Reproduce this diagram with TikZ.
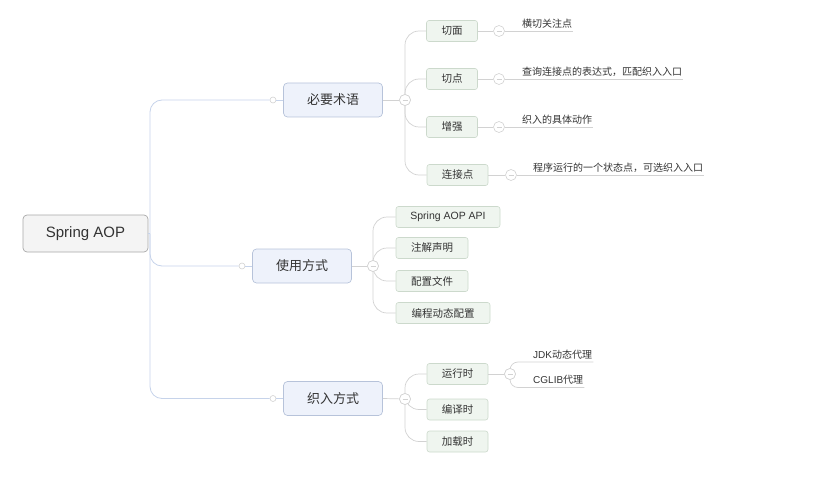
\documentclass[tikz,border=0pt]{standalone}
\usepackage{fontspec}
\setmainfont{Noto Sans CJK SC}
\newfontfamily\lat{Liberation Sans}
\usetikzlibrary{positioning,calc}
\definecolor{txt}{HTML}{333333}
\definecolor{rootfill}{HTML}{F4F4F4}
\definecolor{rootdraw}{HTML}{A8A8A8}
\definecolor{lonefill}{HTML}{EEF2FB}
\definecolor{lonedraw}{HTML}{B7C3DA}
\definecolor{ltwofill}{HTML}{EFF5EF}
\definecolor{ltwodraw}{HTML}{CCD9CC}
\definecolor{trunkc}{HTML}{C6D3EA}
\definecolor{linec}{HTML}{D2D2D2}
\tikzset{
  rootbox/.style={draw=rootdraw,fill=rootfill,rounded corners=4pt,minimum height=37pt,minimum width=125pt,align=center,font=\fontsize{15}{17}\selectfont,text=txt,line width=0.7pt},
  lonebox/.style={draw=lonedraw,fill=lonefill,rounded corners=4pt,minimum height=34pt,minimum width=99pt,font=\fontsize{13}{15}\selectfont,text=txt,line width=0.7pt},
  ltwobox/.style={draw=ltwodraw,fill=ltwofill,rounded corners=2.5pt,minimum height=21pt,inner xsep=9pt,font=\fontsize{10.5}{12}\selectfont,text=txt,line width=0.6pt},
  leaf/.style={inner sep=1pt,anchor=south west,font=\fontsize{10}{12}\selectfont,text=txt},
  trunk/.style={draw=trunkc,line width=0.8pt},
  conn/.style={draw=linec,line width=0.7pt},
  dot/.style={circle,draw=linec,fill=white,inner sep=0pt,minimum size=6pt,line width=0.6pt},
  fold/.style={circle,draw=linec,fill=white,inner sep=0pt,minimum size=11pt,line width=0.6pt,
    path picture={\draw[linec,line width=0.6pt] ([xshift=-2.5pt]path picture bounding box.center) -- ([xshift=2.5pt]path picture bounding box.center);}},
}
\begin{document}
\begin{tikzpicture}[x=1pt,y=-1pt]
\useasboundingbox (0,0) rectangle (830,484);
% root
\node[rootbox] (root) at (85.5,233.5) {\lat Spring AOP};
% level 1
\node[lonebox] (a) at (333,100) {必要术语};
\node[lonebox] (b) at (302,266) {使用方式};
\node[lonebox] (c) at (333,398.5) {织入方式};
\node[dot] (ad) at (273,100) {};
\node[dot] (bd) at (242,266) {};
\node[dot] (cd) at (273,398.5) {};
\coordinate (tk) at (150,233.5);
\draw[trunk] (root.east) -- (tk);
\draw[trunk,rounded corners=12pt] (tk) |- (ad);
\draw[trunk,rounded corners=12pt] (tk) |- (bd);
\draw[trunk,rounded corners=12pt] (tk) |- (cd);
\draw[trunk] (ad) -- (a.west);
\draw[trunk] (bd) -- (b.west);
\draw[trunk] (cd) -- (c.west);
% fold circles
\node[fold] (af) at (405,100) {};
\node[fold] (bf) at (373,266) {};
\node[fold] (cf) at (405,399) {};
\draw[conn] (a.east) -- (af);
\draw[conn] (b.east) -- (bf);
\draw[conn] (c.east) -- (cf);
% level 2 under a
\node[ltwobox,minimum width=51pt] (a1) at (452,31) {切面};
\node[ltwobox,minimum width=51pt] (a2) at (452,79) {切点};
\node[ltwobox,minimum width=51pt] (a3) at (452,127) {增强};
\node[ltwobox,minimum width=61pt] (a4) at (457.5,175) {连接点};
\foreach \n in {a1,a2,a3,a4}{\draw[conn,rounded corners=14pt] (af.center) |- (\n.west);}
\node[fold] at (af) {};
% level 2 under b
\node[ltwobox,minimum width=104pt] (b1) at (448,217) {\lat Spring AOP API};
\node[ltwobox,minimum width=72pt] (b2) at (432,248) {注解声明};
\node[ltwobox,minimum width=72pt] (b3) at (432,281) {配置文件};
\node[ltwobox,minimum width=94pt] (b4) at (443,313) {编程动态配置};
\foreach \n in {b1,b2,b3,b4}{\draw[conn,rounded corners=14pt] (bf.center) |- (\n.west);}
\node[fold] at (bf) {};
% level 2 under c
\node[ltwobox,minimum width=61pt] (c1) at (457.5,374) {运行时};
\node[ltwobox,minimum width=61pt] (c2) at (457.5,409.5) {编译时};
\node[ltwobox,minimum width=61pt] (c3) at (457.5,441.5) {加载时};
\foreach \n in {c1,c2,c3}{\draw[conn,rounded corners=14pt] (cf.center) |- (\n.west);}
\node[fold] at (cf) {};
% level 3 under a
\node[fold] (a1f) at (499,31) {};
\node[fold] (a2f) at (499,79) {};
\node[fold] (a3f) at (499,127) {};
\node[fold] (a4f) at (511,175) {};
\draw[conn] (a1.east) -- (a1f);
\draw[conn] (a2.east) -- (a2f);
\draw[conn] (a3.east) -- (a3f);
\draw[conn] (a4.east) -- (a4f);
\node[leaf] (t1) at (521,29.5) {横切关注点};
\node[leaf] (t2) at (521,77.5) {查询连接点的表达式，匹配织入入口};
\node[leaf] (t3) at (521,125.5) {织入的具体动作};
\node[leaf] (t4) at (532,173.5) {程序运行的一个状态点，可选织入入口};
\draw[conn] (a1f) -- (t1.east |- a1f);
\draw[conn] (a2f) -- (t2.east |- a2f);
\draw[conn] (a3f) -- (t3.east |- a3f);
\draw[conn] (a4f) -- (t4.east |- a4f);
% level 3 under c1
\node[fold] (c1f) at (510,374) {};
\draw[conn] (c1.east) -- (c1f);
\node[leaf] (u1) at (532,360.5) {{\lat JDK}动态代理};
\node[leaf] (u2) at (532,386) {{\lat CGLIB}代理};
\draw[conn,rounded corners=8pt] (c1f.center) |- (u1.east |- 0,362);
\draw[conn,rounded corners=8pt] (c1f.center) |- (u2.east |- 0,387.5);
\node[fold] at (c1f) {};
\end{tikzpicture}
\end{document}
